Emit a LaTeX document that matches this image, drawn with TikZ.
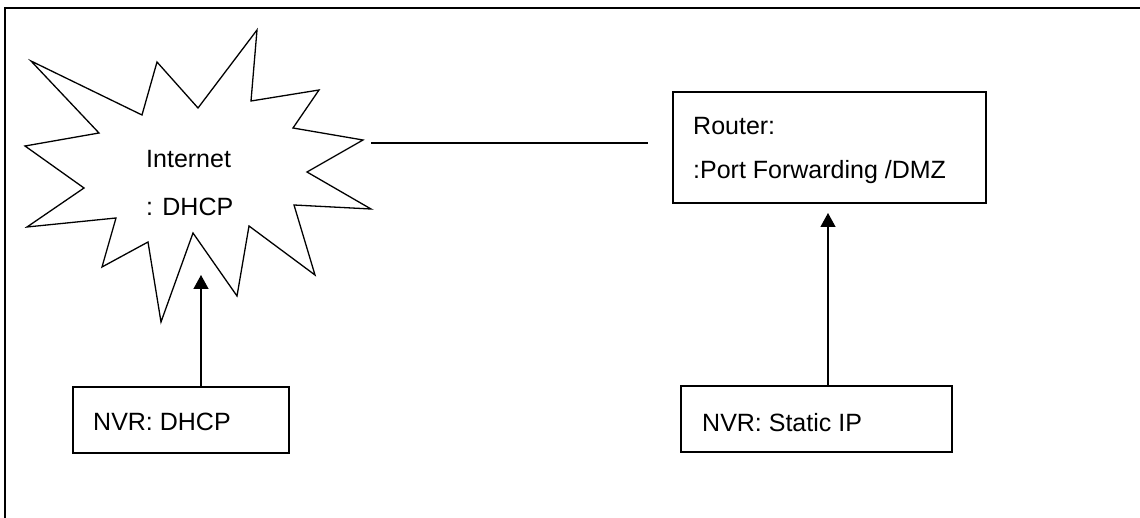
\documentclass[tikz,border=0pt]{standalone}
\usepackage{fontspec}
\setmainfont{Liberation Sans}
\usetikzlibrary{arrows.meta}
\begin{document}
\begin{tikzpicture}[x=1pt,y=-1pt,
  boxstyle/.style={draw, line width=1.6pt, rectangle, inner sep=0pt, anchor=north west},
  lbl/.style={anchor=base west, inner sep=0pt, font=\fontsize{25}{30}\selectfont},
  conn/.style={line width=1.3pt},
  arr/.style={line width=1.3pt, -{Triangle[width=15pt,length=14pt]}}]
\useasboundingbox (0,0) rectangle (1140,518);
% outer frame (top and left edges only)
\draw[line width=2pt] (1140,8) -- (5,8) -- (5,518);
% starburst
\draw[line width=1.3pt, line join=miter] (257,30) -- (251,101) -- (319,90) -- (293,128) -- (363,140) -- (307,172) -- (371,209) -- (294,205) -- (315,275) -- (249,226) -- (237,296) -- (193,233) -- (161,322) -- (148,242) -- (102,267) -- (116,218) -- (27,227) -- (84,188) -- (25,146) -- (99,133) -- (31,61) -- (142,115) -- (157,62) -- (198,108) -- cycle;
\node[lbl] (inet1) at (146,168) {Internet};
\node[lbl] (inet2) at (146,216) {: DHCP};
% router
\node[boxstyle, minimum width=313pt, minimum height=111pt] (router) at (672,91) {};
\node[lbl] (rt1) at (693,135) {Router:};
\node[lbl] (rt2) at (693,179) {:Port Forwarding /DMZ};
% NVR boxes
\node[boxstyle, minimum width=216pt, minimum height=66pt] (nvr1) at (72,386) {};
\node[lbl] (nvr1t) at (93,430) {NVR: DHCP};
\node[boxstyle, minimum width=271pt, minimum height=66pt] (nvr2) at (680,385) {};
\node[lbl] (nvr2t) at (702,431) {NVR: Static IP};
% connectors
\coordinate (linkA) at (371,143);
\coordinate (linkB) at (648,143);
\draw[conn] (linkA) -- (linkB);
\coordinate (tip1) at (201,275);
\draw[arr] (nvr1.north -| tip1) -- (tip1);
\coordinate (tip2) at (828,213);
\draw[arr] (nvr2.north -| tip2) -- (tip2);
\end{tikzpicture}
\end{document}
